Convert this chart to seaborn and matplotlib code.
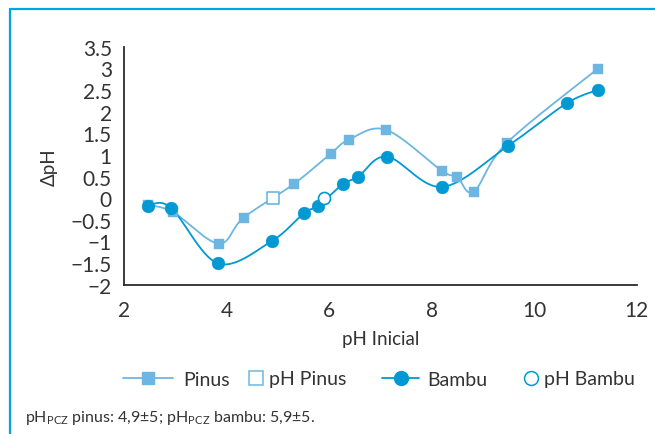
import numpy as np
import pandas as pd
import matplotlib
matplotlib.use("Agg")
import matplotlib.pyplot as plt
from matplotlib.lines import Line2D
from matplotlib.ticker import FuncFormatter, MultipleLocator
import seaborn as sns

# Initial pH vs. pH change, pine and bamboo samples
pinus_x = [2.47, 2.96, 3.84, 4.33, 5.31, 6.03, 6.38, 7.11, 8.20, 8.49, 8.82, 9.46, 11.24]
pinus_y = [-0.15, -0.33, -1.05, -0.45, 0.33, 1.03, 1.35, 1.58, 0.63, 0.50, 0.15, 1.27, 2.99]
bambu_x = [2.47, 2.91, 3.83, 4.88, 5.51, 5.78, 6.27, 6.56, 7.13, 8.20, 9.49, 10.63, 11.24]
bambu_y = [-0.17, -0.22, -1.51, -0.99, -0.34, -0.18, 0.33, 0.49, 0.96, 0.26, 1.21, 2.19, 2.50]
# point of zero charge for each material
pcz_x = {"Pinus": 4.9, "Bambu": 5.9}
pcz_y = {"Pinus": 0.0, "Bambu": 0.0}

labels = ["Pinus", "pH Pinus", "Bambu", "pH Bambu"]
x_label = "pH Inicial"
y_label = "\u0394pH"
note = (r"pH$_{\mathregular{PCZ}}$ pinus: 4,9" + "\u00b1" + "5; "
        r"pH$_{\mathregular{PCZ}}$ bambu: 5,9" + "\u00b1" + "5.")

C_PINUS = "#6db6e2"
C_BAMBU = "#0099d3"
C_FRAME = "#00a5de"
C_AXIS = "#2b2b2b"
C_TEXT = "#333333"


def smooth(xs, ys, n=40):
    """Smoothed curve through the points (cubic Bezier / Catmull-Rom)."""
    p = np.column_stack([xs, ys]).astype(float)
    ext = np.vstack([p[0], p, p[-1]])
    t = np.linspace(0, 1, n)[:, None]
    out = []
    for i in range(len(p) - 1):
        p0, p1, p2, p3 = ext[i], ext[i + 1], ext[i + 2], ext[i + 3]
        c1 = p1 + (p2 - p0) / 6.0
        c2 = p2 - (p3 - p1) / 6.0
        seg = ((1 - t) ** 3) * p1 + 3 * ((1 - t) ** 2) * t * c1 \
            + 3 * (1 - t) * t ** 2 * c2 + t ** 3 * p2
        out.append(seg if i == 0 else seg[1:])
    c = np.vstack(out)
    return pd.DataFrame({"x": c[:, 0], "y": c[:, 1]})


sns.set_style("white")
plt.rcParams["font.family"] = ["Lato", "DejaVu Sans"]
plt.rcParams["mathtext.fontset"] = "custom"
plt.rcParams["mathtext.rm"] = "Lato"

W, H = 655, 435
fig = plt.figure(figsize=(W / 100, H / 100), dpi=100)
ax = fig.add_axes([124.3 / W, 1 - 285.7 / H, (636.7 - 124.3) / W, (285.7 - 47.7) / H])

pin_curve = smooth(pinus_x, pinus_y)
bam_curve = smooth(bambu_x, bambu_y)

sns.lineplot(data=pin_curve, x="x", y="y", sort=False, estimator=None,
             color=C_PINUS, lw=1.3, ax=ax)
sns.lineplot(data=bam_curve, x="x", y="y", sort=False, estimator=None,
             color=C_BAMBU, lw=1.3, ax=ax)
sns.scatterplot(x=pinus_x, y=pinus_y, marker="s", s=62, color=C_PINUS,
                edgecolor=C_PINUS, linewidth=0.3, zorder=4, ax=ax)
sns.scatterplot(x=bambu_x, y=bambu_y, marker="o", s=85, color=C_BAMBU,
                edgecolor=C_BAMBU, linewidth=0.3, zorder=5, ax=ax)
sns.scatterplot(x=[pcz_x["Pinus"]], y=[pcz_y["Pinus"]], marker="s", s=70,
                facecolor="white", edgecolor=C_PINUS, linewidth=1.2,
                zorder=6, ax=ax)
sns.scatterplot(x=[pcz_x["Bambu"]], y=[pcz_y["Bambu"]], marker="o", s=75,
                facecolor="white", edgecolor=C_BAMBU, linewidth=1.2,
                zorder=6, ax=ax)

ax.set_xlim(2, 12)
ax.set_ylim(-2, 3.5)
ax.xaxis.set_major_locator(MultipleLocator(2))
ax.yaxis.set_major_locator(MultipleLocator(0.5))
ax.yaxis.set_major_formatter(FuncFormatter(lambda v, _: f"{v:g}".replace("-", "\u2212")))
ax.set_xlabel(x_label, fontsize=13.5, color=C_TEXT, labelpad=7)
ax.set_ylabel(y_label, fontsize=13.5, color=C_TEXT, labelpad=9)

for side in ("top", "right"):
    ax.spines[side].set_visible(False)
for side in ("left", "bottom"):
    ax.spines[side].set_color(C_AXIS)
    ax.spines[side].set_linewidth(1.3)
ax.tick_params(axis="both", direction="out", colors=C_AXIS, width=1.3,
               labelsize=15, labelcolor=C_TEXT)
ax.tick_params(axis="x", length=5, pad=6)
ax.tick_params(axis="y", length=5, pad=4)
ax.set_facecolor("white")

# legend entries placed one by one along the bottom
FS = 14
em = FS * 100 / 72
entries = [
    (Line2D([], [], color=C_PINUS, lw=1.3, marker="s", markersize=9),
     labels[0], 123, 50, 10),
    (Line2D([], [], ls="none", marker="s", markersize=10,
            markerfacecolor="white", markeredgecolor=C_PINUS, markeredgewidth=1.1),
     labels[1], 247, 17, 5),
    (Line2D([], [], color=C_BAMBU, lw=1.3, marker="o", markersize=10),
     labels[2], 382, 37, 8),
    (Line2D([], [], ls="none", marker="o", markersize=10,
            markerfacecolor="white", markeredgecolor=C_BAMBU, markeredgewidth=1.1),
     labels[3], 522, 17, 5),
]
for handle, text, x0, hlen, tpad in entries:
    fig.legend([handle], [text], loc="center left",
               bbox_to_anchor=(x0 / W, 1 - 380 / H), frameon=False,
               fontsize=FS, handlelength=hlen / em, handletextpad=tpad / em,
               borderpad=0, borderaxespad=0, labelcolor=C_TEXT)

fig.text(25 / W, 1 - 418 / H, note, fontsize=11.5, color=C_TEXT,
         va="center", ha="left")

# open frame along the left and top edges
fig.add_artist(Line2D([10 / W, 10 / W], [0, 1 - 10 / H],
                      transform=fig.transFigure, color=C_FRAME, lw=1.6))
fig.add_artist(Line2D([10 / W, 1], [1 - 10 / H, 1 - 10 / H],
                      transform=fig.transFigure, color=C_FRAME, lw=1.6))

fig.savefig("out.png", dpi=100)
